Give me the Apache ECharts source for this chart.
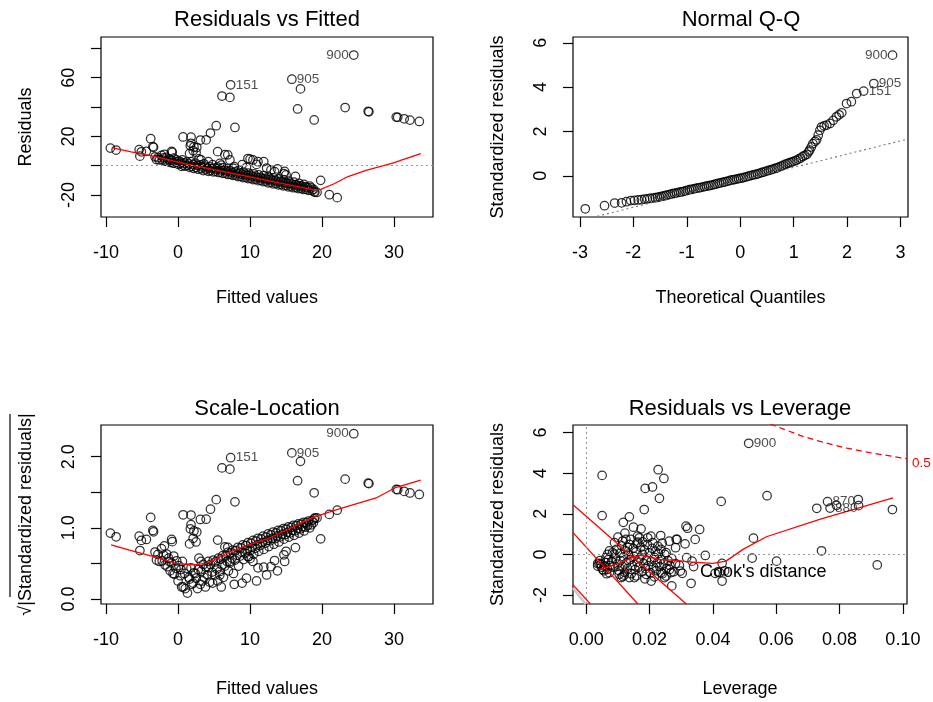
<!DOCTYPE html>
<html>
<head>
<meta charset="utf-8">
<script src="https://cdn.jsdelivr.net/npm/echarts@6/dist/echarts.min.js"></script>
<style>
  html, body { margin: 0; padding: 0; background: #fff; }
  #chart { width: 933px; height: 702px; }
</style>
</head>
<body>
<div id="chart"></div>
<script>
// ---- data ----

// Residuals vs Fitted: [fitted, residual]; first three are the labelled cases
const fitRes = [
  [24.4, 75.5], [15.8, 59.0], [7.3, 55.2],
  [17.0, 52.4], [6.1, 47.5], [7.2, 46.6], [16.6, 38.7], [23.2, 39.7], [26.4, 37.1], [26.5, 36.8], [18.9, 31.2],
  [30.3, 33.2], [30.5, 33.0], [31.4, 32.0], [32.2, 31.1], [33.5, 30.2],
  [5.3, 27.3], [7.9, 26.1], [4.5, 22.3], [0.7, 19.6], [1.8, 19.5], [3.1, 17.5], [3.9, 17.6], [-3.8, 18.4],
  [1.7, 13.6], [2.2, 12.8], [2.6, 12.4], [1.8, 15.3], [-9.4, 12.0], [-8.6, 10.7], [-5.4, 10.9], [-4.4, 9.8],
  [-3.4, 12.5], [-3.5, 13.0], [-5.3, 6.5], [-5.1, 9.5],
  [5.5, 9.6], [6.5, 7.5], [6.9, 7.4], [7.2, 3.9], [9.7, 4.9], [10.0, 4.5], [10.4, 3.9], [11.1, 2.7], [11.9, 2.8],
  [8.9, 0.7], [10.9, 0.9], [12.9, -2.9], [13.4, -4.1], [14.8, -3.9], [14.7, -5.4], [15.0, -6.3], [16.3, -7.3],
  [19.8, -10.0], [19.0, -18.2], [19.3, -18.2], [18.9, -17.7], [21.0, -19.8], [22.1, -21.8],
  [-0.9, 9.8], [-0.8, 9.1], [-1.9, 7.8], [1.6, 8.4], [2.1, 10.2], [2.5, 9.0], [3.2, 3.9], [4.2, 2.7], [5.8, 1.6],
  [9.5, -1.2], [12.3, -1.6], [13.8, -2.2], [7.8, -0.6], [6.0, 0.4],
  [-3.2, 6.1], [-3.0, 4.2], [-2.8, 5.5], [-2.6, 3.9], [-2.3, 7.0], [-2.2, 4.0], [-2.0, 5.3], [-1.8, 3.2],
  [-1.6, 5.6], [-1.5, 2.9], [-1.3, 4.6], [-1.2, 3.9], [-1.1, 2.2], [-0.9, 3.6], [-0.7, 1.8], [-0.6, 5.1],
  [-0.5, 1.7], [-0.3, 2.6], [-0.2, 4.0], [0.0, 0.9], [0.1, 3.1], [0.3, 1.5], [0.4, 2.4], [0.5, -0.4],
  [0.6, 3.9], [0.7, 0.4], [0.9, 1.8], [1.0, -0.3], [1.2, 2.6], [1.3, 0.1], [1.5, 1.3], [1.6, -1.1],
  [1.8, 2.7], [1.9, -0.6], [2.1, 0.7], [2.2, -1.9], [2.4, 1.8], [2.5, -1.2], [2.7, 0.3], [2.8, -2.4],
  [2.9, 4.6], [3.1, 0.6], [3.2, -2.1], [3.4, -0.9], [3.5, -3.3], [3.6, 1.3], [3.8, -0.4], [3.9, -2.8],
  [4.1, -1.6], [4.2, -3.9], [4.4, -0.8], [4.5, -3.3], [4.7, -2.0], [4.8, 0.7], [4.9, -4.2], [5.1, -1.6],
  [5.2, -3.8], [5.4, -2.5], [5.5, -0.9], [5.6, -4.6], [5.8, -2.1], [5.9, -4.4], [6.1, -3.2], [6.2, -5.2],
  [6.3, -1.3], [6.5, -3.0], [6.6, -5.1], [6.8, -3.9], [6.9, -6.0], [7.0, -2.2], [7.2, -3.6], [7.3, -5.9],
  [7.5, -4.6], [7.6, -6.6], [7.7, -1.8], [7.9, -4.2], [8.0, -6.5], [8.2, -5.3], [8.3, -7.4], [8.4, -3.0],
  [8.6, -5.1], [8.7, -7.2], [8.9, -6.0], [9.0, -8.1], [9.1, -4.3], [9.3, -5.8], [9.4, -7.9], [9.6, -6.7],
  [9.7, -8.8], [9.8, -5.0], [10.0, -6.4], [10.1, -8.6], [10.3, -7.4], [10.4, -9.5], [10.5, -5.6], [10.7, -7.1],
  [10.8, -9.3], [11.0, -8.1], [11.1, -10.2], [11.2, -6.3], [11.4, -7.9], [11.5, -10.0], [11.7, -8.8], [11.8, -10.9],
  [11.9, -6.8], [12.1, -8.6], [12.2, -10.6], [12.4, -9.5], [12.5, -11.7], [12.6, -7.6], [12.8, -9.4], [12.9, -11.4],
  [13.1, -10.2], [13.2, -12.4], [13.3, -8.3], [13.5, -10.1], [13.6, -12.1], [13.8, -11.0], [13.9, -13.0], [14.0, -9.0],
  [14.2, -10.7], [14.3, -12.9], [14.5, -11.6], [14.6, -13.7], [14.7, -9.9], [14.9, -11.5], [15.0, -13.5], [15.2, -12.3],
  [15.3, -14.4], [15.4, -10.6], [15.6, -12.1], [15.7, -14.2], [15.9, -13.0], [16.0, -15.0], [16.1, -11.2], [16.3, -12.9],
  [16.4, -14.9], [16.6, -13.7], [16.7, -15.6], [16.8, -12.0], [17.0, -13.6], [17.1, -15.5], [17.3, -14.4], [17.4, -16.2],
  [17.5, -12.8], [17.7, -14.3], [17.8, -16.1], [18.0, -15.0], [18.1, -16.8], [18.3, -14.0], [18.5, -15.2], [18.6, -17.0],
  [18.8, -16.1]
];
const caseIds = ['900', '905', '151'];
const fitLowess = [
  [-9.1, 12.2], [-6.5, 9.5], [-3.5, 6.5], [0, 2.4], [2, 0.3], [6, -3.7], [10, -7.6], [14, -11.7],
  [18.9, -16.5], [19.8, -16.2], [21.6, -12.5], [23.6, -7.4], [26.1, -3.2], [29.8, 1.8], [30.8, 3.4], [33.7, 8.3]
];
// residual standard error, used for the scale-location transform
const sigmaHat = 14.0;
const scaleLowess = [
  [-9.3, 0.76], [-6.5, 0.68], [-3.5, 0.60], [-0.3, 0.50], [2.1, 0.48], [3.9, 0.50], [5.0, 0.55], [6.7, 0.64],
  [9.5, 0.75], [12.3, 0.84], [15.5, 0.99], [18.8, 1.15], [22.5, 1.27], [27.5, 1.42], [30.3, 1.57], [33.7, 1.67]
];

// Normal Q-Q: [theoretical quantile, standardized residual]; last three labelled
const qqPts = [
  [-2.90, -1.49], [-2.54, -1.35], [-2.35, -1.23], [-2.22, -1.22], [-2.13, -1.17], [-2.05, -1.12], [-1.98, -1.11],
  [-1.91, -1.09], [-1.85, -1.08], [-1.79, -1.05], [-1.74, -1.04], [-1.69, -1.02], [-1.64, -1.01], [-1.59, -0.99],
  [-1.55, -0.97], [-1.51, -0.95], [-1.47, -0.93], [-1.43, -0.91], [-1.39, -0.88], [-1.35, -0.86], [-1.31, -0.84],
  [-1.27, -0.81], [-1.23, -0.79], [-1.19, -0.77], [-1.15, -0.75], [-1.11, -0.73], [-1.07, -0.71], [-1.03, -0.68],
  [-0.99, -0.66], [-0.95, -0.63], [-0.91, -0.61], [-0.87, -0.59], [-0.83, -0.57], [-0.79, -0.55], [-0.75, -0.53],
  [-0.71, -0.51], [-0.67, -0.49], [-0.63, -0.47], [-0.59, -0.45], [-0.55, -0.43], [-0.51, -0.41], [-0.47, -0.38],
  [-0.43, -0.36], [-0.39, -0.33], [-0.35, -0.31], [-0.31, -0.29], [-0.27, -0.26], [-0.23, -0.24], [-0.19, -0.21],
  [-0.15, -0.19], [-0.11, -0.17], [-0.07, -0.15], [-0.03, -0.13], [0.01, -0.11], [0.05, -0.09], [0.09, -0.06],
  [0.13, -0.04], [0.17, -0.01], [0.21, 0.02], [0.25, 0.04], [0.29, 0.06], [0.33, 0.09], [0.37, 0.12],
  [0.41, 0.15], [0.45, 0.18], [0.49, 0.21], [0.53, 0.24], [0.57, 0.27], [0.61, 0.30], [0.65, 0.33],
  [0.69, 0.36], [0.73, 0.40], [0.77, 0.44], [0.81, 0.48], [0.85, 0.52], [0.89, 0.56], [0.93, 0.59],
  [0.97, 0.63], [1.01, 0.66], [1.05, 0.70], [1.09, 0.75], [1.13, 0.80], [1.17, 0.87], [1.21, 0.92],
  [1.25, 0.97], [1.28, 1.08], [1.30, 1.16], [1.33, 1.30], [1.36, 1.45], [1.40, 1.55], [1.43, 1.62],
  [1.46, 1.83], [1.49, 2.05], [1.52, 2.20], [1.57, 2.25], [1.62, 2.29], [1.68, 2.36], [1.74, 2.50],
  [1.80, 2.66], [1.85, 2.75], [1.90, 2.84], [1.99, 3.26], [2.08, 3.34], [2.18, 3.71],
  [2.31, 3.82], [2.50, 4.16], [2.85, 5.44]
];
const qqIds = ['151', '905', '900'];
const qqLine = [[-3.13, -2.10], [3.14, 1.66]];

// Residuals vs Leverage: [leverage, standardized residual]; first three labelled
const levPts = [
  [0.0513, 5.47], [0.0762, 2.60], [0.0770, 2.28],
  [0.0728, 2.27], [0.0790, 2.42], [0.0859, 2.70], [0.0860, 2.40], [0.0967, 2.21],
  [0.0050, 3.89], [0.0227, 4.17], [0.0245, 3.74], [0.0186, 3.25], [0.0209, 3.32], [0.0231, 2.76], [0.0183, 2.21],
  [0.0050, 1.91], [0.0426, 2.61], [0.0571, 2.89], [0.0528, 0.80], [0.0743, 0.18], [0.0524, -0.18], [0.0601, -0.33],
  [0.0919, -0.52], [0.0376, -0.05], [0.0429, -0.44], [0.0429, -1.31], [0.0407, -0.93], [0.0331, -1.42], [0.0358, 1.23],
  [0.0315, 1.39], [0.0320, 1.29], [0.0344, 0.74], [0.0312, 0.52], [0.0284, 0.74], [0.0282, 0.33], [0.0262, 0.65],
  [0.0235, 0.93], [0.0136, 1.85], [0.0117, 1.58], [0.0149, 1.34], [0.0173, 1.26], [0.0317, -0.16], [0.0334, -0.33],
  [0.0339, -0.60], [0.0294, -0.54], [0.0297, -0.82], [0.0303, -0.93], [0.0263, -0.74], [0.0252, -1.06], [0.0205, -1.31],
  [0.0136, -1.14], [0.0152, -1.14], [0.0110, -1.14], [0.0073, -0.90], [0.0052, -0.74], [0.0036, -0.57],
  [0.0421, -0.89], [0.0437, -0.81], [0.0268, -0.89], [0.0270, -1.55], [0.0247, -1.14], [0.0236, -0.89], [0.0189, -0.98],
  [0.0104, -0.98], [0.0115, -1.09], [0.0067, -0.73], [0.0057, -0.57], [0.0046, -0.49], [0.0041, -0.44], [0.0073, 0.17],
  [0.0067, 0.00], [0.0083, 0.09], [0.0062, -0.16], [0.0089, 0.58], [0.0115, 0.66], [0.0125, 0.74], [0.0141, 0.74],
  [0.0168, 0.82], [0.0194, 0.82], [0.0204, 0.90], [0.0162, 0.90], [0.0236, 0.25], [0.0252, 0.09], [0.0210, 0.58],
  [0.0226, 0.41], [0.0287, 0.74],
  [0.0080, -0.35], [0.0085, -0.62], [0.0092, -0.20], [0.0095, 0.25], [0.0098, -0.48], [0.0102, -0.78], [0.0106, 0.05],
  [0.0108, -0.30], [0.0112, 0.42], [0.0115, -0.60], [0.0118, -0.12], [0.0121, -0.88], [0.0124, 0.18], [0.0127, -0.42],
  [0.0130, -0.70], [0.0133, 0.02], [0.0136, 0.50], [0.0139, -0.25], [0.0142, -0.95], [0.0145, -0.55], [0.0148, 0.30],
  [0.0151, -0.10], [0.0154, -0.75], [0.0157, 0.12], [0.0160, -0.38], [0.0163, 0.60], [0.0166, -0.62], [0.0169, -0.20],
  [0.0172, 0.35], [0.0175, -0.85], [0.0178, 0.00], [0.0181, -0.45], [0.0184, 0.22], [0.0187, -0.70], [0.0190, -0.28],
  [0.0193, 0.48], [0.0196, -0.55], [0.0199, 0.08], [0.0202, -0.90], [0.0205, -0.35], [0.0208, 0.30], [0.0212, -0.62],
  [0.0215, -0.15], [0.0218, 0.15], [0.0221, -0.80], [0.0224, -0.42], [0.0228, 0.05], [0.0232, -0.60], [0.0236, -0.25],
  [0.0240, -0.95], [0.0244, -0.45], [0.0248, 0.00], [0.0253, -0.70], [0.0258, -0.30], [0.0264, -0.55], [0.0270, -0.20],
  [0.0276, -0.85], [0.0282, -0.45], [0.0088, 0.02], [0.0075, -0.55], [0.0070, -0.25], [0.0064, -0.95], [0.0060, -0.40],
  [0.0055, -0.80], [0.0048, -0.62], [0.0043, -0.30], [0.0036, -0.45], [0.0100, 0.85], [0.0122, 1.05], [0.0178, 0.62],
  [0.0130, 0.35], [0.0158, -1.05], [0.0185, -1.20], [0.0215, -1.10], [0.0120, -1.02], [0.0240, 0.55], [0.0160, 0.55]
];
const levIds = ['900', '870', '880'];
const levLowess = [
  [0.0041, -0.74], [0.0100, -0.45], [0.0146, -0.16], [0.0172, -0.05], [0.0190, -0.10], [0.0230, -0.25],
  [0.0272, -0.28], [0.0335, -0.38], [0.0399, -0.44], [0.0441, -0.33], [0.0495, 0.25], [0.0569, 0.87],
  [0.0737, 1.72], [0.0969, 2.78]
];
const cooksHalf = [
  [0.0580, 6.42], [0.0686, 5.80], [0.0748, 5.52], [0.0823, 5.23], [0.0896, 5.01], [0.1001, 4.74], [0.1013, 4.71]
];
const redDiagonals = [
  [[-0.0042, 2.45], [0.0316, -2.44]],
  [[-0.0042, 1.07], [0.0163, -2.44]],
  [[-0.0042, -1.50], [0.0013, -2.44]]
];
const greyDiagonal = [[-0.0042, -1.66], [-0.0002, -2.44]];

// ---- chart ----
const FONT = 'Liberation Sans, Arial, sans-serif';
const chart = echarts.init(document.getElementById('chart'), null, { renderer: 'canvas' });

const gridBox = { show: true, borderColor: '#000', borderWidth: 1.2, backgroundColor: 'transparent' };
const grids = [
  Object.assign({ left: 101, top: 37, width: 332, height: 180 }, gridBox),
  Object.assign({ left: 573, top: 37, width: 335, height: 180 }, gridBox),
  Object.assign({ left: 101, top: 425, width: 332, height: 179 }, gridBox),
  Object.assign({ left: 573, top: 425, width: 334, height: 179 }, gridBox)
];

function axis(gridIndex, isX, min, max, ticks, labels, name, fmt, nameGap) {
  return {
    type: 'value', gridIndex, min, max, scale: true,
    position: isX ? 'bottom' : 'left',
    name, nameLocation: 'middle', nameGap,
    nameTextStyle: { fontFamily: FONT, fontSize: 18, color: '#000' },
    axisLine: { show: false, onZero: false },
    axisTick: { show: true, inside: false, length: 10, customValues: ticks, lineStyle: { color: '#000', width: 1.2 } },
    axisLabel: {
      show: true, customValues: labels, margin: isX ? 27 : 23, rotate: isX ? 0 : 90,
      fontFamily: FONT, fontSize: 18, color: '#000',
      formatter: fmt || (v => String(v))
    },
    splitLine: { show: false }
  };
}

const xAxes = [
  axis(0, true, -10.7, 35.4, [-10, 0, 10, 20, 30], [-10, 0, 10, 20, 30], 'Fitted values', null, 72),
  axis(1, true, -3.13, 3.14, [-3, -2, -1, 0, 1, 2, 3], [-3, -2, -1, 0, 1, 2, 3], 'Theoretical Quantiles', null, 72),
  axis(2, true, -10.7, 35.4, [-10, 0, 10, 20, 30], [-10, 0, 10, 20, 30], 'Fitted values', null, 76),
  axis(3, true, -0.0042, 0.1013, [0, 0.02, 0.04, 0.06, 0.08, 0.1], [0, 0.02, 0.04, 0.06, 0.08, 0.1], 'Leverage', v => v.toFixed(2), 76)
];
const yAxes = [
  axis(0, false, -35, 87.8, [-20, 0, 20, 40, 60, 80], [-20, 20, 60], 'Residuals', null, 66),
  axis(1, false, -1.86, 6.26, [0, 2, 4, 6], [0, 2, 4, 6], 'Standardized residuals', null, 66),
  axis(2, false, -0.07, 2.445, [0, 0.5, 1, 1.5, 2], [0, 1, 2], '\u221A|Standardized residuals|', v => v.toFixed(1), 66),
  axis(3, false, -2.44, 6.37, [-2, 0, 2, 4, 6], [-2, 0, 2, 4, 6], 'Standardized residuals', null, 66)
];

const circle = {
  type: 'scatter', symbol: 'circle', symbolSize: 8.5,
  itemStyle: { color: 'rgba(0,0,0,0)', borderColor: '#000', borderWidth: 1.25 },
  emphasis: { disabled: true }, silent: true
};
function pointsSeries(i, data, extra) {
  return Object.assign({}, circle, { xAxisIndex: i, yAxisIndex: i, data }, extra || {});
}
function redLine(i, data, dashed) {
  return {
    type: 'line', xAxisIndex: i, yAxisIndex: i, data, symbol: 'none', smooth: false, silent: true, clip: true,
    lineStyle: { color: '#ff0000', width: 1.3, type: dashed ? [6, 4] : 'solid' }, z: 3
  };
}
function greyRef(axisKey, value) {
  const d = {}; d[axisKey] = value;
  return {
    silent: true, symbol: 'none', label: { show: false },
    lineStyle: { color: '#9a9a9a', width: 1.1, type: [2, 3] },
    data: [d]
  };
}
function idLabels(i, pts, ids, sides) {
  return {
    type: 'scatter', xAxisIndex: i, yAxisIndex: i, symbolSize: 0, silent: true, z: 5,
    data: pts.map((p, k) => ({
      value: p,
      label: {
        show: true, formatter: ids[k], position: sides[k], distance: 5,
        fontFamily: FONT, fontSize: 13.5, color: '#222'
      }
    }))
  };
}

const scaleLoc = fitRes.map(p => [p[0], Math.sqrt(Math.abs(p[1]) / sigmaHat)]);

const series = [
  // panel 1
  pointsSeries(0, fitRes, { markLine: greyRef('yAxis', 0) }),
  redLine(0, fitLowess),
  idLabels(0, fitRes.slice(0, 3), caseIds, ['left', 'right', 'right']),
  // panel 2
  {
    type: 'line', xAxisIndex: 1, yAxisIndex: 1, data: qqLine, symbol: 'none', silent: true, clip: true,
    lineStyle: { color: '#777', width: 1.1, type: [2, 3] }
  },
  pointsSeries(1, qqPts),
  idLabels(1, qqPts.slice(-3), qqIds, ['right', 'right', 'left']),
  // panel 3
  pointsSeries(2, scaleLoc),
  redLine(2, scaleLowess),
  idLabels(2, scaleLoc.slice(0, 3), caseIds, ['left', 'right', 'right']),
  // panel 4
  pointsSeries(3, levPts, {
    markLine: {
      silent: true, symbol: 'none', label: { show: false },
      lineStyle: { color: '#9a9a9a', width: 1.1, type: [2, 3] },
      data: [{ yAxis: 0 }, { xAxis: 0 }]
    }
  }),
  redLine(3, levLowess),
  redLine(3, cooksHalf, true),
  {
    type: 'line', xAxisIndex: 3, yAxisIndex: 3, data: greyDiagonal, symbol: 'none', silent: true, clip: true,
    lineStyle: { color: '#c8c8c8', width: 2.5 }, z: 2
  }
].concat(redDiagonals.map(seg => redLine(3, seg)))
 .concat([idLabels(3, levPts.slice(0, 3), levIds, ['right', 'right', 'right'])]);

const titleStyle = (text, x, y) => ({
  type: 'text', x, y, silent: true,
  style: { text, fill: '#000', font: '22px ' + FONT, align: 'center', verticalAlign: 'middle' }
});

const option = {
  animation: false,
  backgroundColor: '#fff',
  textStyle: { fontFamily: FONT },
  grid: grids,
  xAxis: xAxes,
  yAxis: yAxes,
  series,
  graphic: [
    titleStyle('Residuals vs Fitted', 267, 20),
    titleStyle('Normal Q-Q', 741, 20),
    titleStyle('Scale-Location', 267, 409),
    titleStyle('Residuals vs Leverage', 740, 409),
    // overline of the square root in the scale-location axis title
    {
      type: 'line', silent: true, shape: { x1: 10, y1: 414, x2: 10, y2: 597 },
      style: { stroke: '#000', lineWidth: 1.2 }
    },
    {
      type: 'text', x: 912, y: 463, silent: true,
      style: { text: '0.5', fill: '#ff0000', font: '13.5px ' + FONT, align: 'left', verticalAlign: 'middle' }
    },
    {
      type: 'line', silent: true, shape: { x1: 603, y1: 570, x2: 653, y2: 570 },
      style: { stroke: '#ff0000', lineWidth: 1.3, lineDash: [6, 4] }
    },
    {
      type: 'text', x: 700, y: 572, silent: true,
      style: { text: "Cook's distance", fill: '#000', font: '18px ' + FONT, align: 'left', verticalAlign: 'middle' }
    }
  ]
};
chart.setOption(option);
</script>
</body>
</html>
